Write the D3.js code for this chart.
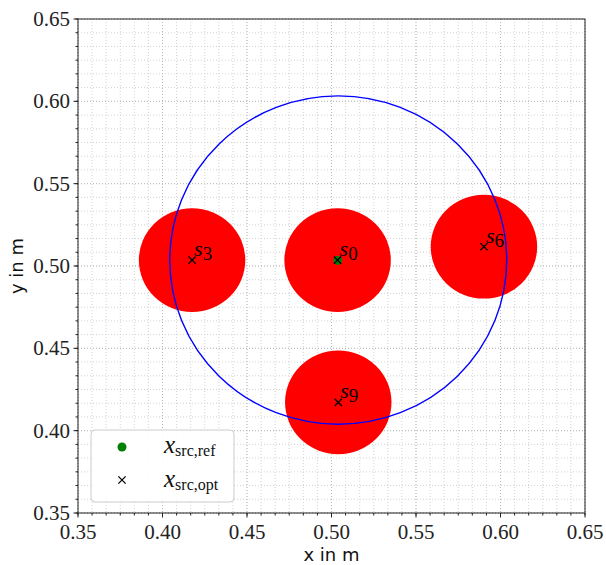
<!DOCTYPE html>
<html>
<head>
<meta charset="utf-8">
<script src="https://cdn.jsdelivr.net/npm/d3@7"></script>
<style>
  body { margin: 0; background: #fff; }
  svg { display: block; }
</style>
</head>
<body>
<svg id="chart" width="606" height="565"></svg>
<script>
// source positions (optimised) and their labels
const srcNames = ['3', '0', '6', '9'];
const srcX = [0.4175, 0.5036, 0.5902, 0.5040];
const srcY = [0.5036, 0.5036, 0.5117, 0.4172];

// reference source
const refX = [0.5037];
const refY = [0.5034];

// region drawn round each source (red) and the search circle (blue)
const regionRadius = [0.0315];
const searchCenter = [0.504, 0.5036];
const searchRadius = [0.0997];

const majorTicks = [0.35, 0.40, 0.45, 0.50, 0.55, 0.60, 0.65];
const tickLabels = ['0.35', '0.40', '0.45', '0.50', '0.55', '0.60', '0.65'];
const minorPerMajor = 6;

const legendLabels = ['src,ref', 'src,opt'];

const serif = "'Liberation Serif', 'DejaVu Serif', serif";
const sans = "'DejaVu Sans', sans-serif";

const margin = { left: 78, top: 19 },
    width = 507,
    height = 494;

const svg = d3.select('#chart');

const x = d3.scaleLinear().domain([0.35, 0.65]).range([margin.left, margin.left + width]);
const y = d3.scaleLinear().domain([0.35, 0.65]).range([margin.top + height, margin.top]);

const minorTicks = d3.range(0, (majorTicks.length - 1) * minorPerMajor + 1)
    .map(i => 0.35 + i * 0.05 / minorPerMajor);

// grid, minor first then major
const grid = svg.append('g').attr('class', 'grid');

function gridLines(values, color) {
    grid.selectAll(null).data(values).enter().append('line')
        .attr('x1', d => x(d)).attr('x2', d => x(d))
        .attr('y1', margin.top).attr('y2', margin.top + height)
        .attr('stroke', color).attr('stroke-width', 0.8)
        .attr('stroke-dasharray', '1,2');
    grid.selectAll(null).data(values).enter().append('line')
        .attr('y1', d => y(d)).attr('y2', d => y(d))
        .attr('x1', margin.left).attr('x2', margin.left + width)
        .attr('stroke', color).attr('stroke-width', 0.8)
        .attr('stroke-dasharray', '1,2');
}
gridLines(minorTicks, '#c8c8c8');
gridLines(majorTicks, '#b0b0b0');

// red regions
const rx = x(regionRadius[0]) - x(0), ry = y(0) - y(regionRadius[0]);
svg.append('g').selectAll('ellipse').data(srcNames).enter().append('ellipse')
    .attr('cx', (d, i) => x(srcX[i]))
    .attr('cy', (d, i) => y(srcY[i]))
    .attr('rx', rx).attr('ry', ry)
    .attr('fill', '#ff0000');

// blue search circle
svg.append('ellipse')
    .attr('cx', x(searchCenter[0])).attr('cy', y(searchCenter[1]))
    .attr('rx', x(searchRadius[0]) - x(0))
    .attr('ry', y(0) - y(searchRadius[0]))
    .attr('fill', 'none').attr('stroke', '#0000ff').attr('stroke-width', 1.4);

// reference point
svg.append('g').selectAll('circle').data(refX).enter().append('circle')
    .attr('cx', d => x(d)).attr('cy', (d, i) => y(refY[i]))
    .attr('r', 4.5).attr('fill', '#008000');

function cross(g, cx, cy, s) {
    g.append('path')
        .attr('d', `M${cx - s},${cy - s}L${cx + s},${cy + s}M${cx - s},${cy + s}L${cx + s},${cy - s}`)
        .attr('stroke', '#000').attr('stroke-width', 1.3).attr('fill', 'none');
}

const marks = svg.append('g');
srcNames.forEach((n, i) => {
    cross(marks, x(srcX[i]), y(srcY[i]), 3.6);
    const t = marks.append('text')
        .attr('font-family', serif).attr('fill', '#000')
        .attr('x', x(srcX[i]) + 2).attr('y', y(srcY[i]) - 4);
    t.append('tspan').attr('font-style', 'italic').attr('font-size', 22).text('s');
    t.append('tspan').attr('font-size', 19).attr('dy', 4).text(n);
});

// spines
svg.append('rect')
    .attr('x', margin.left).attr('y', margin.top)
    .attr('width', width).attr('height', height)
    .attr('fill', 'none').attr('stroke', '#222').attr('stroke-width', 1);

// ticks
const ticks = svg.append('g');
ticks.selectAll(null).data(minorTicks).enter().append('line')
    .attr('x1', d => x(d)).attr('x2', d => x(d))
    .attr('y1', margin.top + height).attr('y2', margin.top + height + 2.5)
    .attr('stroke', '#222');
ticks.selectAll(null).data(minorTicks).enter().append('line')
    .attr('y1', d => y(d)).attr('y2', d => y(d))
    .attr('x1', margin.left).attr('x2', margin.left - 2.5)
    .attr('stroke', '#222');
ticks.selectAll(null).data(majorTicks).enter().append('line')
    .attr('x1', d => x(d)).attr('x2', d => x(d))
    .attr('y1', margin.top + height).attr('y2', margin.top + height + 4.5)
    .attr('stroke', '#222');
ticks.selectAll(null).data(majorTicks).enter().append('line')
    .attr('y1', d => y(d)).attr('y2', d => y(d))
    .attr('x1', margin.left).attr('x2', margin.left - 4.5)
    .attr('stroke', '#222');

ticks.selectAll(null).data(majorTicks).enter().append('text')
    .attr('font-family', serif).attr('font-size', 21).attr('fill', '#222')
    .attr('x', d => x(d)).attr('y', margin.top + height + 26)
    .attr('text-anchor', 'middle')
    .text((d, i) => tickLabels[i]);
ticks.selectAll(null).data(majorTicks).enter().append('text')
    .attr('font-family', serif).attr('font-size', 21).attr('fill', '#222')
    .attr('x', margin.left - 8).attr('y', d => y(d) + 7)
    .attr('text-anchor', 'end')
    .text((d, i) => tickLabels[i]);

svg.append('text')
    .attr('font-family', sans).attr('font-size', 18).attr('fill', '#111')
    .attr('x', margin.left + width / 2).attr('y', 561)
    .attr('text-anchor', 'middle').text('x in m');
svg.append('text')
    .attr('font-family', sans).attr('font-size', 18).attr('fill', '#111')
    .attr('transform', `translate(23,${margin.top + height / 2}) rotate(-90)`)
    .attr('text-anchor', 'middle').text('y in m');

// legend
const legend = svg.append('g');
legend.append('rect')
    .attr('x', 91).attr('y', 430).attr('width', 143).attr('height', 72)
    .attr('rx', 4).attr('fill', '#fff').attr('fill-opacity', 0.9)
    .attr('stroke', '#cccccc').attr('stroke-width', 1);
legend.append('circle').attr('cx', 122).attr('cy', 447).attr('r', 4.5).attr('fill', '#008000');
cross(legend, 122, 480, 3.6);
legendLabels.forEach((l, i) => {
    const t = legend.append('text')
        .attr('font-family', serif).attr('fill', '#111')
        .attr('x', 164).attr('y', 453 + i * 33.5);
    t.append('tspan').attr('font-style', 'italic').attr('font-size', 25).text('x');
    t.append('tspan').attr('font-size', 16).attr('dy', 3).text(l);
});
</script>
</body>
</html>
